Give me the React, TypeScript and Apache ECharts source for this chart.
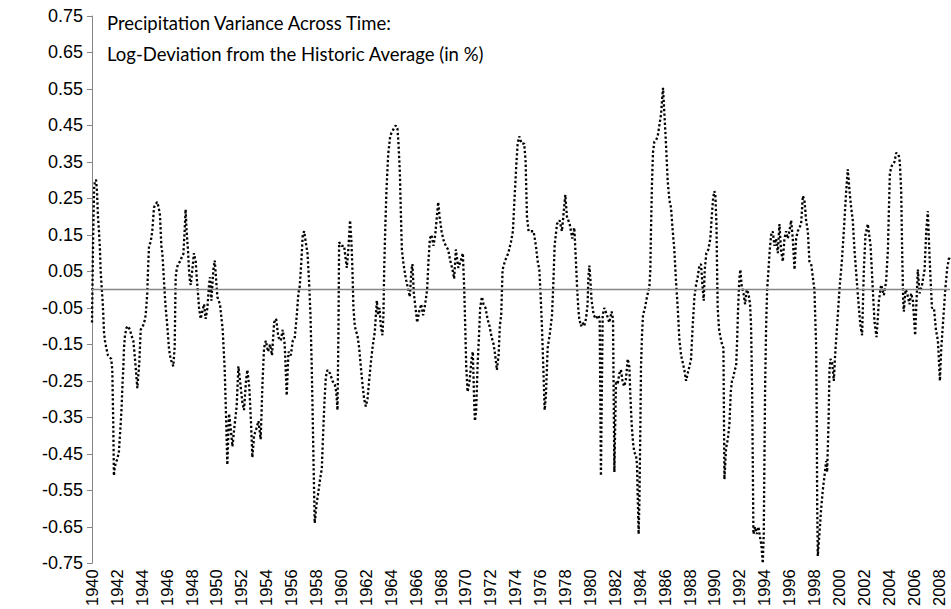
import React, { useEffect, useRef } from "react";
import * as echarts from "echarts";

// Time (fractional year) and log-deviation values
const years: number[] = [
  1940.00, 1940.08, 1940.17, 1940.25, 1940.33, 1940.40, 1940.48, 1940.56, 1940.64, 1940.69, 1940.77, 1940.85, 1940.91, 1940.96,
  1941.04, 1941.15, 1941.28, 1941.41, 1941.55, 1941.63, 1941.71, 1941.76, 1941.82, 1941.90,
  1942.03, 1942.16, 1942.30, 1942.38, 1942.46, 1942.51, 1942.57, 1942.65, 1942.78, 1942.89,
  1943.05, 1943.16, 1943.32, 1943.48, 1943.64, 1943.80, 1943.91,
  1944.17, 1944.31, 1944.44, 1944.50, 1944.58, 1944.71, 1944.84, 1944.98,
  1945.11, 1945.25, 1945.38, 1945.46, 1945.57, 1945.65, 1945.73, 1945.84, 1945.92,
  1946.05, 1946.18, 1946.26, 1946.37, 1946.53, 1946.64, 1946.72, 1946.80, 1946.91,
  1947.07, 1947.20, 1947.34, 1947.44, 1947.52, 1947.60, 1947.71, 1947.79, 1947.87, 1947.93,
  1948.06, 1948.19, 1948.33, 1948.41, 1948.51, 1948.60, 1948.73, 1948.86,
  1949.00, 1949.13, 1949.27, 1949.40, 1949.48, 1949.59, 1949.75, 1949.86,
  1950.07, 1950.28, 1950.50, 1950.66, 1950.77, 1950.87,
  1951.01, 1951.14, 1951.28, 1951.46, 1951.62, 1951.76, 1951.89,
  1952.08, 1952.21, 1952.37, 1952.48, 1952.64, 1952.78, 1952.88,
  1953.02, 1953.21, 1953.37, 1953.55, 1953.69, 1953.82, 1953.96,
  1954.14, 1954.30, 1954.46, 1954.63, 1954.79, 1954.97,
  1955.16, 1955.32, 1955.48, 1955.64, 1955.78, 1955.97,
  1956.13, 1956.29, 1956.45, 1956.58, 1956.69, 1956.82, 1956.93,
  1957.04, 1957.17, 1957.31, 1957.44, 1957.55, 1957.65, 1957.73, 1957.81, 1957.89,
  1958.03, 1958.16, 1958.32, 1958.46, 1958.56, 1958.67, 1958.78, 1958.91,
  1959.13, 1959.31, 1959.50, 1959.62, 1959.72, 1959.80, 1959.85,
  1960.04, 1960.25, 1960.39, 1960.47, 1960.57, 1960.73, 1960.84, 1960.92,
  1961.00, 1961.11, 1961.22, 1961.32, 1961.46, 1961.59, 1961.73, 1961.86, 1961.99,
  1962.13, 1962.26, 1962.40, 1962.53, 1962.61, 1962.72, 1962.80, 1962.88, 1962.98,
  1963.09, 1963.20, 1963.33, 1963.41, 1963.47, 1963.55, 1963.65, 1963.79, 1963.95,
  1964.06, 1964.22, 1964.40, 1964.54, 1964.62, 1964.73, 1964.81, 1964.89,
  1965.02, 1965.21, 1965.40, 1965.53, 1965.66, 1965.74, 1965.85, 1965.99,
  1966.12, 1966.28, 1966.44, 1966.60, 1966.76, 1966.92,
  1967.03, 1967.14, 1967.27, 1967.43, 1967.57, 1967.70, 1967.81, 1967.92,
  1968.08, 1968.24, 1968.42, 1968.61, 1968.77, 1968.96,
  1969.09, 1969.23, 1969.42, 1969.63, 1969.79, 1969.90, 1969.98,
  1970.06, 1970.17, 1970.33, 1970.49, 1970.59, 1970.70, 1970.76, 1970.86, 1970.97,
  1971.08, 1971.18, 1971.32, 1971.45, 1971.61, 1971.77, 1971.93,
  1972.10, 1972.26, 1972.39, 1972.52, 1972.66, 1972.76, 1972.87, 1972.98,
  1973.19, 1973.44, 1973.65, 1973.81, 1973.94,
  1974.08, 1974.19, 1974.32, 1974.51, 1974.72, 1974.83, 1974.94,
  1975.07, 1975.26, 1975.47, 1975.66, 1975.79, 1975.93,
  1976.03, 1976.14, 1976.25, 1976.36, 1976.46, 1976.60, 1976.78, 1976.95,
  1977.05, 1977.16, 1977.35, 1977.56, 1977.75, 1977.91,
  1978.02, 1978.15, 1978.37, 1978.58, 1978.74, 1978.87, 1978.96,
  1979.06, 1979.14, 1979.28, 1979.41, 1979.54, 1979.68, 1979.81, 1979.87, 1979.95,
  1980.03, 1980.13, 1980.30, 1980.48, 1980.67, 1980.78, 1980.88,
  1981.02, 1981.15, 1981.37, 1981.55, 1981.74, 1981.85, 1981.96,
  1982.09, 1982.22, 1982.36, 1982.49, 1982.63, 1982.76, 1982.89,
  1983.03, 1983.16, 1983.24, 1983.35, 1983.46, 1983.56, 1983.70, 1983.78, 1983.83, 1983.91, 1983.97,
  1984.05, 1984.10, 1984.18, 1984.26, 1984.42, 1984.58, 1984.77, 1984.85, 1984.90, 1984.98,
  1985.06, 1985.17, 1985.31, 1985.44, 1985.57, 1985.71, 1985.79, 1985.87, 1985.98,
  1986.06, 1986.14, 1986.24, 1986.38, 1986.51, 1986.65, 1986.78, 1986.91,
  1987.05, 1987.18, 1987.32, 1987.45, 1987.58, 1987.72, 1987.85, 1987.99,
  1988.12, 1988.25, 1988.39, 1988.52, 1988.65, 1988.79, 1988.92,
  1989.06, 1989.14, 1989.22, 1989.35, 1989.51, 1989.67, 1989.78, 1989.89, 1989.99,
  1990.07, 1990.16, 1990.21, 1990.26, 1990.37, 1990.48, 1990.61, 1990.72, 1990.80, 1990.93,
  1991.07, 1991.20, 1991.31, 1991.42, 1991.52, 1991.63, 1991.74, 1991.82, 1991.90,
  1992.00, 1992.08, 1992.19, 1992.33, 1992.46, 1992.59, 1992.73, 1992.86, 1992.94,
  1993.02, 1993.08, 1993.13, 1993.26, 1993.40, 1993.53, 1993.67, 1993.77, 1993.88, 1993.96,
  1994.01, 1994.07, 1994.15, 1994.23, 1994.34, 1994.44, 1994.55, 1994.68, 1994.82, 1994.95,
  1995.09, 1995.22, 1995.35, 1995.49, 1995.62, 1995.76, 1995.89,
  1996.02, 1996.16, 1996.29, 1996.43, 1996.56, 1996.69, 1996.83, 1996.96,
  1997.10, 1997.23, 1997.36, 1997.50, 1997.63, 1997.77, 1997.90,
  1998.03, 1998.17, 1998.22, 1998.25, 1998.30, 1998.43, 1998.57, 1998.70, 1998.84, 1998.97,
  1999.05, 1999.16, 1999.24, 1999.32, 1999.45, 1999.59, 1999.69, 1999.85,
  2000.04, 2000.23, 2000.39, 2000.58, 2000.71, 2000.85, 2000.98,
  2001.11, 2001.25, 2001.41, 2001.60, 2001.73, 2001.86,
  2002.00, 2002.13, 2002.32, 2002.54, 2002.72, 2002.86,
  2003.02, 2003.21, 2003.39, 2003.61, 2003.79, 2003.93,
  2004.01, 2004.09, 2004.25, 2004.46, 2004.60, 2004.79, 2004.89,
  2005.00, 2005.08, 2005.16, 2005.21, 2005.35, 2005.48, 2005.67, 2005.80, 2005.94,
  2006.12, 2006.23, 2006.34, 2006.47, 2006.66, 2006.88,
  2007.01, 2007.14, 2007.22, 2007.33, 2007.47, 2007.63, 2007.79, 2007.95,
  2008.11, 2008.22, 2008.38, 2008.54, 2008.70, 2008.86, 2008.92,
];

const values: number[] = [
  -0.09, 0.12, 0.28, 0.30, 0.30, 0.27, 0.20, 0.16, 0.11, 0.055, 0.01, -0.03, -0.07, -0.115,
  -0.14, -0.16, -0.18, -0.185, -0.19, -0.22, -0.37, -0.51, -0.49, -0.475,
  -0.465, -0.445, -0.37, -0.32, -0.25, -0.22, -0.16, -0.125, -0.104, -0.10,
  -0.11, -0.125, -0.14, -0.20, -0.27, -0.20, -0.11,
  -0.094, -0.07, -0.01, 0.055, 0.12, 0.13, 0.16, 0.225,
  0.235, 0.24, 0.22, 0.205, 0.12, 0.10, 0.055, -0.01, -0.05,
  -0.10, -0.16, -0.18, -0.195, -0.21, -0.157, 0.034, 0.055, 0.07,
  0.077, 0.088, 0.098, 0.16, 0.22, 0.16, 0.108, 0.055, 0.023, 0.013,
  0.055, 0.10, 0.077, 0.034, -0.009, -0.05, -0.08, -0.06,
  -0.04, -0.08, -0.05, 0.013, 0.034, -0.03, 0.055, 0.08,
  -0.02, -0.04, -0.11, -0.22, -0.35, -0.48,
  -0.34, -0.38, -0.43, -0.37, -0.32, -0.21, -0.25,
  -0.31, -0.33, -0.25, -0.22, -0.27, -0.37, -0.46,
  -0.40, -0.38, -0.36, -0.41, -0.26, -0.16, -0.14,
  -0.17, -0.15, -0.18, -0.09, -0.08, -0.13,
  -0.14, -0.11, -0.15, -0.29, -0.17, -0.18,
  -0.14, -0.13, -0.07, -0.01, 0.01, 0.08, 0.15,
  0.16, 0.13, 0.10, 0.02, -0.07, -0.21, -0.35, -0.50, -0.64,
  -0.59, -0.56, -0.52, -0.49, -0.40, -0.31, -0.24, -0.22,
  -0.23, -0.25, -0.26, -0.28, -0.33, -0.10, 0.13,
  0.12, 0.12, 0.08, 0.06, 0.10, 0.19, 0.13, 0.055,
  -0.05, -0.10, -0.115, -0.125, -0.16, -0.21, -0.26, -0.30, -0.32,
  -0.30, -0.25, -0.20, -0.16, -0.14, -0.115, -0.07, -0.03, -0.07,
  -0.05, -0.10, -0.125, -0.07, 0.055, 0.16, 0.27, 0.37, 0.42,
  0.43, 0.44, 0.45, 0.44, 0.40, 0.32, 0.21, 0.11,
  0.07, 0.03, 0.00, -0.02, 0.055, 0.07, -0.01, -0.05,
  -0.09, -0.06, -0.04, -0.07, -0.04, 0.00,
  0.08, 0.14, 0.15, 0.12, 0.15, 0.20, 0.24, 0.20,
  0.16, 0.135, 0.12, 0.11, 0.08, 0.055,
  0.03, 0.11, 0.06, 0.08, 0.10, 0.00, -0.10,
  -0.21, -0.28, -0.25, -0.19, -0.17, -0.31, -0.36, -0.33, -0.21,
  -0.13, -0.05, -0.02, -0.04, -0.05, -0.08, -0.10,
  -0.13, -0.15, -0.18, -0.22, -0.18, -0.10, -0.07, 0.055,
  0.08, 0.10, 0.13, 0.16, 0.25,
  0.34, 0.40, 0.42, 0.40, 0.40, 0.35, 0.20,
  0.16, 0.16, 0.16, 0.12, 0.08, 0.055,
  -0.01, -0.10, -0.21, -0.33, -0.29, -0.16, -0.12, -0.07,
  0.01, 0.12, 0.18, 0.19, 0.16, 0.22,
  0.26, 0.20, 0.18, 0.14, 0.17, 0.08, 0.01,
  -0.05, -0.08, -0.10, -0.09, -0.10, -0.08, -0.04, 0.03, 0.066,
  0.03, -0.03, -0.07, -0.08, -0.07, -0.08, -0.51,
  -0.07, -0.05, -0.07, -0.09, -0.06, -0.08, -0.50,
  -0.25, -0.26, -0.23, -0.22, -0.255, -0.265, -0.245,
  -0.19, -0.21, -0.285, -0.37, -0.42, -0.445, -0.455, -0.48, -0.56, -0.67, -0.58,
  -0.37, -0.21, -0.125, -0.07, -0.05, -0.02, 0.007, 0.055, 0.16, 0.29,
  0.375, 0.405, 0.41, 0.42, 0.45, 0.48, 0.52, 0.553, 0.48,
  0.43, 0.375, 0.30, 0.245, 0.225, 0.16, 0.108, 0.023,
  -0.05, -0.136, -0.18, -0.20, -0.22, -0.25, -0.23, -0.21,
  -0.19, -0.10, -0.02, 0.013, 0.034, 0.066, 0.07,
  0.00, -0.03, 0.055, 0.10, 0.11, 0.14, 0.20, 0.25, 0.27,
  0.26, 0.18, 0.055, -0.05, -0.11, -0.13, -0.15, -0.16, -0.52, -0.435,
  -0.41, -0.37, -0.28, -0.245, -0.24, -0.22, -0.21, -0.14, -0.05,
  0.03, 0.055, 0.01, -0.01, -0.04, 0.00, -0.01, -0.04, -0.10,
  -0.26, -0.48, -0.67, -0.65, -0.67, -0.65, -0.68, -0.70, -0.75, -0.67,
  -0.48, -0.265, -0.10, 0.00, 0.055, 0.108, 0.15, 0.16, 0.12, 0.14,
  0.10, 0.18, 0.108, 0.077, 0.14, 0.16, 0.14,
  0.16, 0.19, 0.14, 0.055, 0.14, 0.16, 0.17, 0.18,
  0.257, 0.245, 0.19, 0.16, 0.077, 0.07, 0.034,
  0.00, -0.16, -0.37, -0.58, -0.73, -0.67, -0.60, -0.55, -0.51, -0.47,
  -0.50, -0.37, -0.22, -0.19, -0.20, -0.25, -0.18, -0.10,
  0.00, 0.077, 0.16, 0.27, 0.33, 0.27, 0.225,
  0.19, 0.108, 0.034, -0.05, -0.10, -0.125,
  0.055, 0.15, 0.18, 0.12, 0.00, -0.09,
  -0.13, -0.03, 0.013, -0.015, 0.023, 0.108,
  0.215, 0.32, 0.34, 0.35, 0.375, 0.37, 0.35,
  0.27, 0.10, -0.03, -0.06, 0.00, -0.01, -0.04, -0.01, -0.03,
  -0.125, -0.03, 0.055, -0.01, 0.01, 0.055,
  0.16, 0.215, 0.14, 0.05, -0.05, -0.05, -0.11, -0.14,
  -0.25, -0.16, -0.08, 0.00, 0.06, 0.09, 0.085,
];

const xMin = 1940;
const xMax = 2008.92;
const xStep = 2;
const yMin = -0.75;
const yMax = 0.75;
const yStep = 0.1;

const titleLines: string[] = [
  "Precipitation Variance Across Time:",
  "Log-Deviation from the Historic Average (in %)",
];

export default function App() {
  const ref = useRef<HTMLDivElement>(null);

  useEffect(() => {
    if (!ref.current) return;
    const chart = echarts.init(ref.current, null, { renderer: "svg" });
    const data = years.map((y, i) => [y, values[i]]);
    chart.setOption({
      animation: false,
      backgroundColor: "#ffffff",
      grid: { left: 92, right: 1, top: 16, bottom: 43, containLabel: false },
      graphic: [
        {
          type: "text",
          left: 107,
          top: 13,
          style: {
            text: titleLines[0],
            font: '18.5px "Lato"',
            fill: "#000",
          },
        },
        {
          type: "text",
          left: 107,
          top: 44,
          style: {
            text: titleLines[1],
            font: '18.5px "Lato"',
            fill: "#000",
          },
        },
      ],
      xAxis: {
        type: "value",
        min: xMin,
        max: xMax,
        interval: xStep,
        axisLine: { show: false },
        axisTick: { show: false },
        splitLine: { show: false },
        axisLabel: {
          rotate: 90,
          margin: 6,
          showMaxLabel: false,
          fontFamily: "Liberation Sans",
          fontSize: 16.5,
          color: "#000",
          formatter: (v: number) => (Number.isInteger(v) ? String(v) : ""),
        },
      },
      yAxis: {
        type: "value",
        min: yMin,
        max: yMax,
        interval: yStep,
        axisLine: { show: true, lineStyle: { color: "#868686", width: 1 } },
        axisTick: { show: true, inside: false, length: 5, lineStyle: { color: "#868686" } },
        splitLine: { show: false },
        axisLabel: {
          margin: 9,
          fontFamily: "Liberation Sans",
          fontSize: 18,
          color: "#000",
          formatter: (v: number) => v.toFixed(2),
        },
      },
      series: [
        {
          type: "line",
          data,
          symbol: "none",
          showSymbol: false,
          lineStyle: { color: "#000", width: 2.3, type: [2.3, 2.3] },
          markLine: {
            silent: true,
            symbol: ["none", "none"],
            label: { show: false },
            lineStyle: { color: "#868686", width: 1.3, type: "solid" },
            data: [{ yAxis: 0 }],
          },
          z: 3,
        },
      ],
    });
    return () => chart.dispose();
  }, []);

  return (
    <div
      ref={ref}
      style={{ position: "absolute", left: 0, top: 0, width: 951, height: 609 }}
    />
  );
}
